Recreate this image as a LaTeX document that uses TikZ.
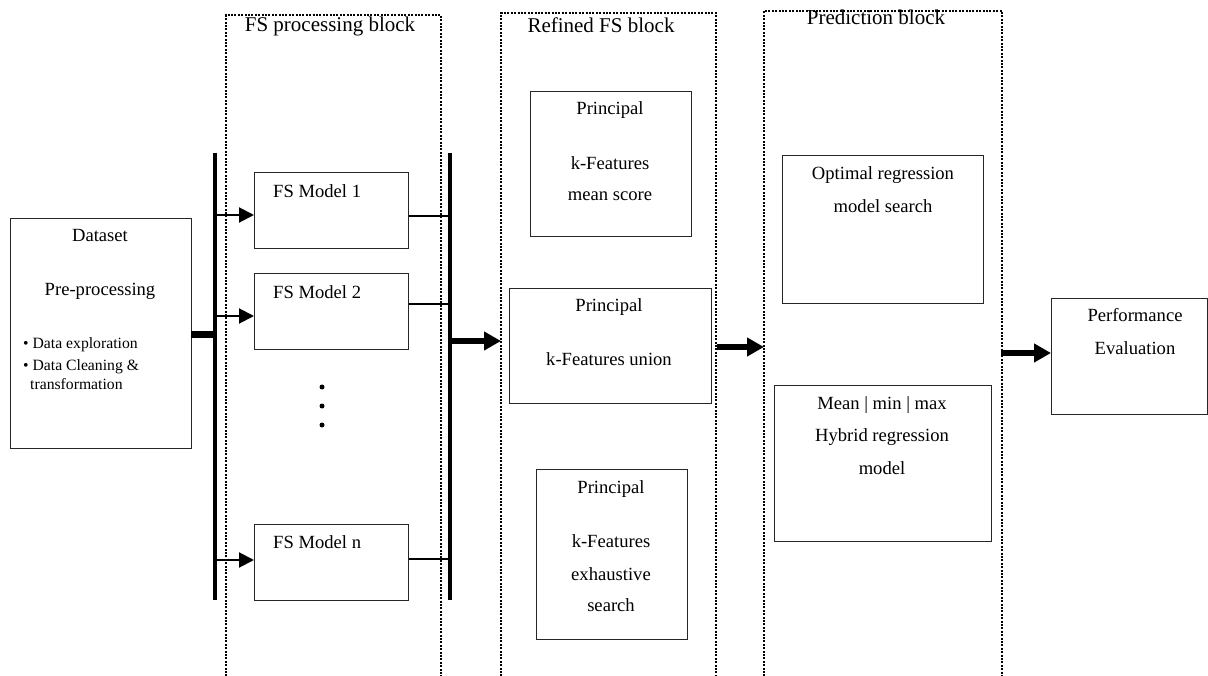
\documentclass[tikz,border=0pt]{standalone}
\usepackage{fontspec}
\setmainfont{Liberation Serif}
\usetikzlibrary{arrows.meta}
\newcommand\myBody{\fontsize{18.6}{22}\selectfont}
\newcommand\myTitle{\fontsize{21}{25}\selectfont}
\newcommand\mySmall{\fontsize{15.7}{19}\selectfont}
\begin{document}
\begin{tikzpicture}[x=1pt,y=-1pt,
  box/.style={draw=black!85, line width=1.3pt, rectangle, inner sep=0pt, anchor=north west},
  lbl/.style={inner sep=0pt, text height=1.55ex, text depth=0.3ex, font=\myBody},
  sml/.style={inner sep=0pt, text height=1.55ex, text depth=0.3ex, font=\mySmall, anchor=west},
  ttl/.style={inner sep=0pt, anchor=base, font=\myTitle},
  dotframe/.style={line width=2.8pt, dash pattern=on 2pt off 1.4pt},
  bus/.style={line width=4pt},
  feed/.style={line width=7pt},
  thinarrow/.style={line width=2pt, -{Triangle[length=15pt,width=15pt]}},
  outline/.style={line width=2pt},
  thickarrow/.style={line width=6pt, -{Triangle[length=17pt,width=18pt]}},
  dotmark/.style={circle, fill=black, inner sep=0pt, minimum size=5pt}
]
\useasboundingbox (0,0) rectangle (1208,676);

% dotted block frames
\draw[dotframe] (226,690) |- (441,15) -- (441,690);
\draw[dotframe] (501,690) |- (716,13) -- (716,690);
\draw[dotframe] (764,690) |- (1002,11) -- (1002,690);
\node[ttl] (t1) at (330,32) {FS processing block};
\node[ttl] (t2) at (601,33) {Refined FS block};
\node[ttl] (t3) at (876,25) {Prediction block};
\coordinate (blk2L) at (501,0);
\coordinate (blk2R) at (716,0);
\coordinate (blk3L) at (764,0);
\coordinate (blk3R) at (1002,0);

% dataset
\node[box, minimum width=181pt, minimum height=230pt] (ds) at (10,218) {};
\node[lbl] (dsa) at (100,239) {Dataset};
\node[lbl] (dsb) at (100,293) {Pre-processing};
\node[sml] (dsc) at (23,346) {•\ Data exploration};
\node[sml] (dsd) at (23,368) {•\ Data Cleaning \&};
\node[sml] (dse) at (30,387) {transformation};

% buses
\coordinate (b1top) at (215,153);
\coordinate (b1bot) at (215,600);
\coordinate (b2top) at (450,153);
\coordinate (b2bot) at (450,600);
\draw[bus] (b1top) -- (b1bot);
\draw[bus] (b2top) -- (b2bot);
\coordinate (dsout) at (191,335);
\draw[feed] (dsout) -- (dsout -| b1top);

% FS models
\node[box, minimum width=154pt, minimum height=76pt] (fs1) at (254,172) {};
\node[box, minimum width=154pt, minimum height=76pt] (fs2) at (254,273) {};
\node[box, minimum width=154pt, minimum height=76pt] (fsn) at (254,524) {};
\node[lbl, anchor=west] (fs1l) at (273,195) {FS Model 1};
\node[lbl, anchor=west] (fs2l) at (273,296) {FS Model 2};
\node[lbl, anchor=west] (fsnl) at (273,546) {FS Model n};
\node[dotmark] (d1) at (322,387) {};
\node[dotmark] (d2) at (322,406) {};
\node[dotmark] (d3) at (322,425) {};

\coordinate (a1) at (215,215);
\coordinate (a2) at (215,316);
\coordinate (a3) at (215,560);
\draw[thinarrow] (a1) -- (a1 -| fs1.west);
\draw[thinarrow] (a2) -- (a2 -| fs2.west);
\draw[thinarrow] (a3) -- (a3 -| fsn.west);
\coordinate (o1) at (450,216);
\coordinate (o2) at (450,304);
\coordinate (o3) at (450,559);
\draw[outline] (o1 -| fs1.east) -- (o1);
\draw[outline] (o2 -| fs2.east) -- (o2);
\draw[outline] (o3 -| fsn.east) -- (o3);

% refined block
\node[box, minimum width=161pt, minimum height=145pt] (ra) at (530,91) {};
\node[lbl] (ra1) at (610,112) {Principal};
\node[lbl] (ra2) at (610,167) {k-Features};
\node[lbl] (ra3) at (610,198) {mean score};
\node[box, minimum width=202pt, minimum height=115pt] (rb) at (509,288) {};
\node[lbl] (rb1) at (609,309) {Principal};
\node[lbl] (rb2) at (609,363) {k-Features union};
\node[box, minimum width=151pt, minimum height=170pt] (rc) at (536,469) {};
\node[lbl] (rc1) at (611,491) {Principal};
\node[lbl] (rc2) at (611,545) {k-Features};
\node[lbl] (rc3) at (611,578) {exhaustive};
\node[lbl] (rc4) at (611,609) {search};

% prediction block
\node[box, minimum width=201pt, minimum height=148pt] (pd) at (782,155) {};
\node[lbl] (pd1) at (883,177) {Optimal regression};
\node[lbl] (pd2) at (883,210) {model search};
\node[box, minimum width=217pt, minimum height=156pt] (pe) at (774,385) {};
\node[lbl] (pe1) at (882,407) {Mean | min | max};
\node[lbl] (pe2) at (882,439) {Hybrid regression};
\node[lbl] (pe3) at (882,472) {model};

% performance
\node[box, minimum width=156pt, minimum height=116pt] (pf) at (1051,298) {};
\node[lbl] (pf1) at (1135,319) {Performance};
\node[lbl] (pf2) at (1135,352) {Evaluation};

% thick arrows
\coordinate (k1) at (450,341);
\coordinate (k2) at (717,347);
\coordinate (k3) at (1001,353);
\draw[thickarrow] (k1) -- (k1 -| blk2L);
\draw[thickarrow] (k2) -- (k2 -| blk3L);
\draw[thickarrow] (k3) -- (k3 -| pf.west);
\end{tikzpicture}
\end{document}
